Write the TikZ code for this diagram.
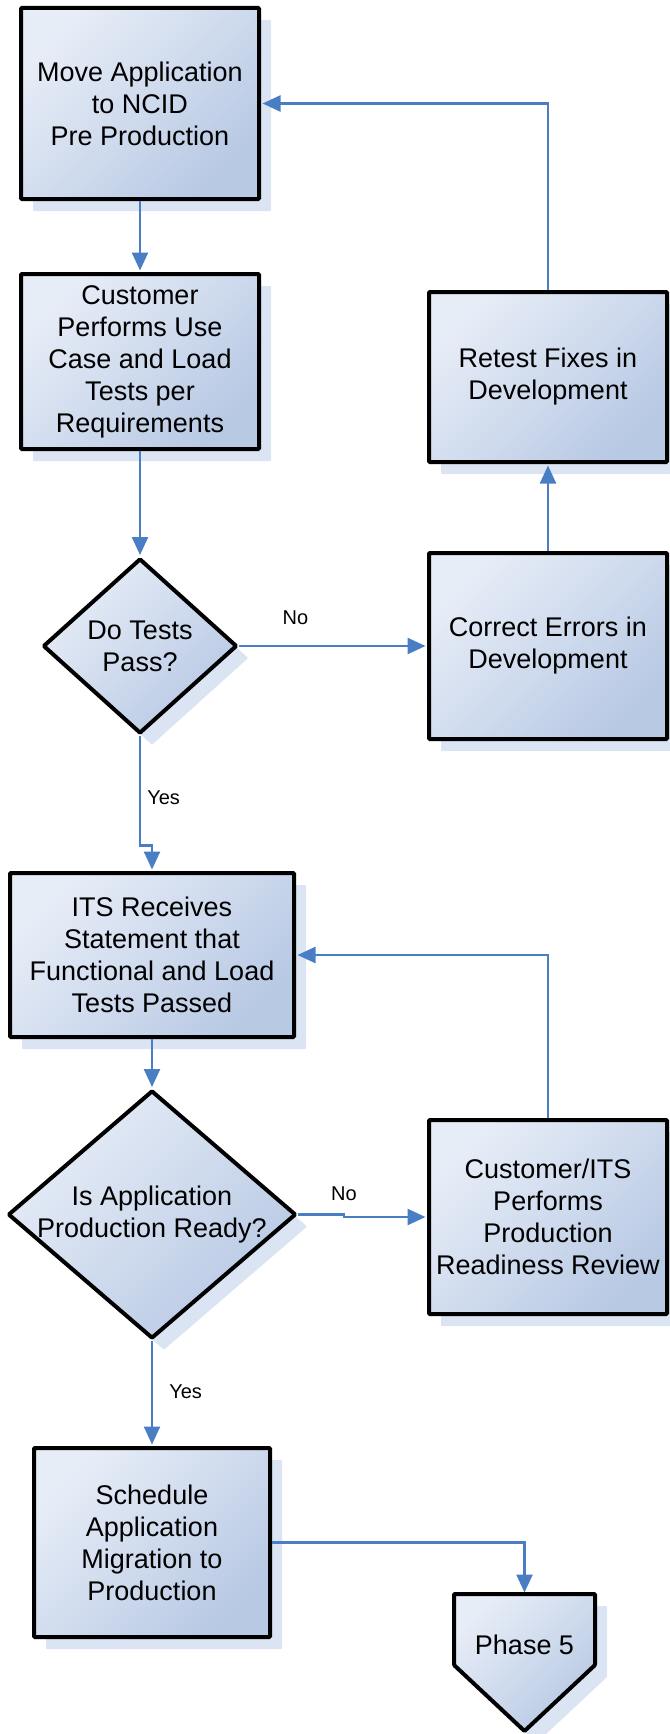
\documentclass[tikz,border=0pt]{standalone}
\usepackage{fontspec}
\setmainfont{Liberation Sans}
\usepackage{tikz}
\usetikzlibrary{shapes.geometric,arrows.meta,shadows}
\definecolor{boxlight}{RGB}{231,237,247}
\definecolor{boxdark}{RGB}{184,201,228}
\definecolor{shadowblue}{RGB}{219,228,242}
\definecolor{flowblue}{RGB}{74,126,196}
\tikzstyle{every node}=[font=\fontsize{27}{32}\selectfont]
\tikzstyle{stepbox}=[draw, line width=4pt, rounded corners=1pt, top color=boxlight, bottom color=boxdark, shading angle=45, drop shadow={shadow xshift=12pt,shadow yshift=-12pt,fill=shadowblue,opacity=1}, inner sep=0pt, align=center]
\tikzstyle{decision}=[stepbox, shape=diamond]
\tikzstyle{flow}=[draw=flowblue, line width=2.5pt, -{Triangle[length=18pt,width=16pt]}, shorten >=1.5pt]
\tikzstyle{answer}=[font=\fontsize{20}{24}\selectfont, inner sep=0pt]

\begin{document}
\begin{tikzpicture}[x=1pt,y=1pt]

\useasboundingbox (0,0) rectangle (669,-1734);

\node[stepbox, minimum width=238pt, minimum height=191pt] (move) at (140,-103.5) {Move Application\\to NCID\\Pre Production};
\node[stepbox, minimum width=238pt, minimum height=175pt] (cust) at (140,-361.5) {Customer\\Performs Use\\Case and Load\\Tests per\\Requirements};
\node[stepbox, minimum width=238pt, minimum height=170pt] (retest) at (548,-377) {Retest Fixes in\\Development};
\node[stepbox, minimum width=238pt, minimum height=186pt] (correct) at (548,-646) {Correct Errors in\\Development};
\node[stepbox, minimum width=284pt, minimum height=164pt] (its) at (152,-955) {ITS Receives\\Statement that\\Functional and Load\\Tests Passed};
\node[stepbox, minimum width=238pt, minimum height=194pt] (review) at (548,-1217) {Customer/ITS\\Performs\\Production\\Readiness Review};
\node[stepbox, minimum width=236pt, minimum height=189pt] (sched) at (152,-1542.5) {Schedule\\Application\\Migration to\\Production};

\node[decision, minimum width=194pt, minimum height=175pt] (tests) at (140,-646) {};
\node[align=center] (teststxt) at (tests.center) {Do Tests\\Pass?};
\node[decision, minimum width=288pt, minimum height=248pt] (ready) at (152,-1214.5) {};
\node[align=center] (readytxt) at (ready.center) {Is Application\\Production Ready?};

\path[stepbox] (454,-1594) -- (595,-1594) -- (595,-1665) -- (524.5,-1731) -- (454,-1665) -- cycle;
\node (phase) at (524.5,-1645) {Phase 5};
\coordinate (phasetop) at (524.5,-1594);

\draw[flow] (move.south) -- (cust.north);
\draw[flow] (cust.south) -- (tests.north);
\draw[flow] (tests.east) -- node[answer, pos=.3, above=20pt] (no1) {No} (correct.west);
\draw[flow] (correct.north) -- (retest.south);
\draw[flow] (retest.north) |- (move.east);
\draw[flow] (tests.south) -- node[answer, pos=.57, right=6pt] (yes1) {Yes} ++(0,-110) -| (its.north);
\draw[flow] (its.south) -- (ready.north);
\draw[flow] (ready.east) -- node[answer, pos=1, above=13pt] (no2) {No} ++(46,0) |- (review.west);
\draw[flow] (review.north) |- (its.east);
\draw[flow] (ready.south) -- node[answer, pos=.49, right=16pt] (yes2) {Yes} (sched.north);
\draw[flow] (sched.east) -| (phasetop);

\end{tikzpicture}
\end{document}
